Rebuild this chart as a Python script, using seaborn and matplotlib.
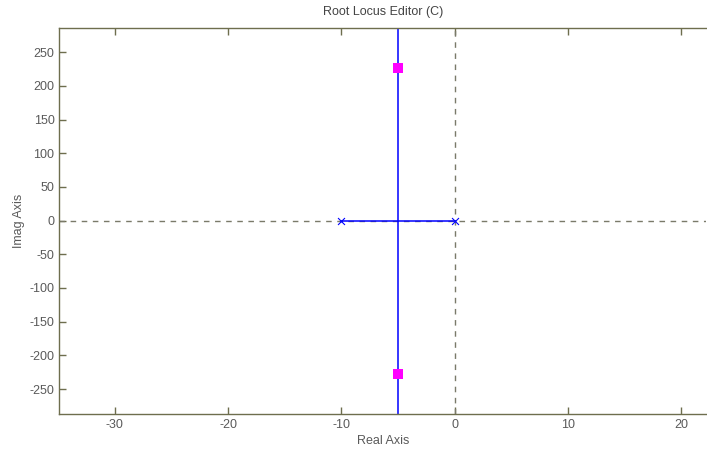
import matplotlib
matplotlib.use("Agg")
import matplotlib.pyplot as plt
import seaborn as sns
import pandas as pd

# open-loop poles (real, imag)
pole_re = [-10, 0]
pole_im = [0, 0]

# closed-loop poles (real, imag)
cl_re = [-5, -5]
cl_im = [227, -227]

# locus branches
branch_real_x = [-10, 0]
branch_real_y = [0, 0]
branch_vert_x = [-5, -5]
branch_vert_y = [-300, 300]

x_ticks = [-30, -20, -10, 0, 10, 20]
y_ticks = [-250, -200, -150, -100, -50, 0, 50, 100, 150, 200, 250]

axis_col = "#6e6e4e"
label_col = "#5a5a5a"

sns.set_style("white")
plt.rcParams['font.family'] = ['Liberation Sans', 'DejaVu Sans']
plt.rcParams['axes.unicode_minus'] = False

fig = plt.figure(figsize=(7.07, 4.5), dpi=100)
ax = fig.add_axes([0.084, 0.08, 0.915, 0.858])

ax.axhline(0, color="#7a7a6a", linestyle=(0, (4, 4)), linewidth=1, zorder=1)
ax.axvline(0, color="#7a7a6a", linestyle=(0, (4, 4)), linewidth=1, zorder=1)

sns.lineplot(x=branch_real_x, y=branch_real_y, color="blue", linewidth=1.1,
             ax=ax, zorder=2, sort=False, estimator=None)
sns.lineplot(x=branch_vert_x, y=branch_vert_y, color="blue", linewidth=1.1,
             ax=ax, zorder=2, sort=False, estimator=None)

poles = pd.DataFrame({"re": pole_re, "im": pole_im})
sns.scatterplot(data=poles, x="re", y="im", marker="x", color="blue",
                s=25, linewidth=0.8, ax=ax, zorder=3)

cl = pd.DataFrame({"re": cl_re, "im": cl_im})
sns.scatterplot(data=cl, x="re", y="im", marker="s", color="magenta",
                s=55, linewidth=0, ax=ax, zorder=4)

ax.set_xlim(-34.9, 22.2)
ax.set_ylim(-287, 286)
ax.set_xticks(x_ticks)
ax.set_yticks(y_ticks)

for side in ["left", "bottom", "top"]:
    ax.spines[side].set_color(axis_col)
    ax.spines[side].set_linewidth(1)
ax.spines["right"].set_visible(False)

ax.tick_params(direction="in", length=5, width=1, color=axis_col,
               labelcolor=label_col, labelsize=9, top=True,
               left=True, bottom=True)
ax.tick_params(axis="x", labeltop=False)

ax.set_title("Root Locus Editor (C)", fontsize=9, color="#444444", pad=9)
ax.set_xlabel("Real Axis", fontsize=9, color=label_col, labelpad=3)
ax.set_ylabel("Imag Axis", fontsize=9, color=label_col, labelpad=3)

fig.savefig("out.png", dpi=100)
